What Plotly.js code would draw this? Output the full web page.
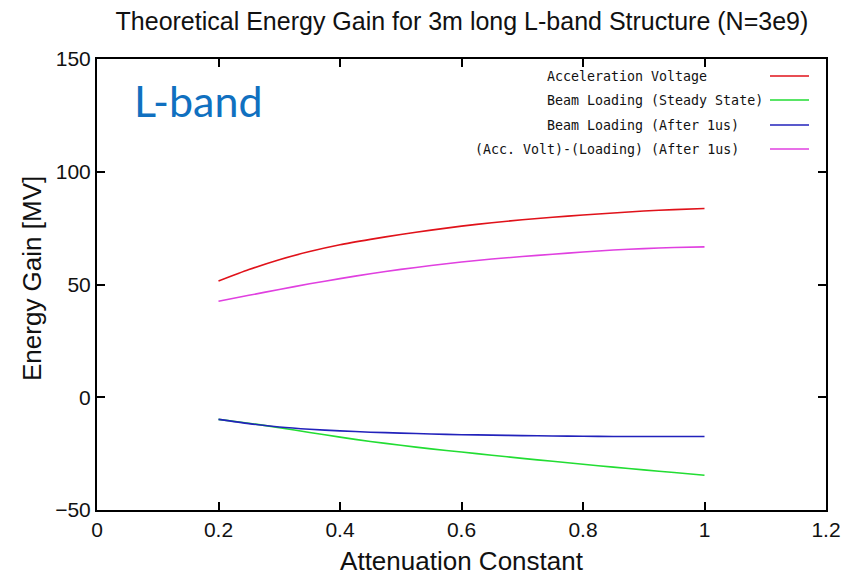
<!DOCTYPE html>
<html><head><meta charset="utf-8">
<script src="https://cdn.plot.ly/plotly-3.0.1.min.js"></script>
<style>body{margin:0;background:#fff}#c{width:857px;height:583px}</style>
</head><body><div id="c"></div>
<script>
const atten = [0.2,0.25,0.3,0.35,0.4,0.45,0.5,0.55,0.6,0.65,0.7,0.75,0.8,0.85,0.9,0.95,1.0];
const accVoltage = [51.5,56.6,61.0,64.6,67.6,70.0,72.2,74.1,75.9,77.4,78.7,79.8,80.8,81.7,82.6,83.2,83.7];
const loadSteady = [-9.8,-11.5,-13.5,-15.6,-17.7,-19.6,-21.3,-22.9,-24.3,-25.7,-27.1,-28.4,-29.7,-31.0,-32.2,-33.4,-34.6];
const loadAfter1us = [-9.8,-11.7,-13.2,-14.2,-14.9,-15.5,-15.9,-16.3,-16.6,-16.8,-17.0,-17.2,-17.3,-17.4,-17.4,-17.4,-17.4];
const netAfter1us = [42.6,45.2,47.8,50.3,52.6,54.8,56.7,58.4,60.0,61.3,62.4,63.4,64.4,65.3,65.9,66.4,66.7];
const seriesNames = ["Acceleration Voltage","Beam Loading (Steady State)","Beam Loading (After 1us)","(Acc. Volt)-(Loading) (After 1us)"];
const seriesColors = ["#e0121a","#22dd33","#2222bb","#e040e0"];
const seriesData = [accVoltage, loadSteady, loadAfter1us, netAfter1us];
const xTicks = [0,0.2,0.4,0.6,0.8,1,1.2];
const xTickText = ["0","0.2","0.4","0.6","0.8","1","1.2"];
const yTicks = [-50,0,50,100,150];

const traces = seriesData.map((d,i)=>({
  x: atten, y: d, type:'scatter', mode:'lines', name: seriesNames[i],
  line:{color: seriesColors[i], width:1.6, shape:'spline', smoothing:0.6}, showlegend:false
}));

const PL=97, PR=826, PT=59, PB=510;
const px = v => (v-PL)/(PR-PL);
const py = v => 1-(v-PT)/(PB-PT);
const legX = [545,545,545,473];
const legY = [76,100,125,149];
const sans = 'Liberation Sans, Arial, sans-serif';
const annotations = seriesNames.map((n,i)=>({
  xref:'paper', yref:'paper', x:px(legX[i]), y:py(legY[i]),
  xanchor:'left', yanchor:'middle', text:n, showarrow:false,
  font:{family:'DejaVu Sans Mono, monospace', size:13.3, color:'#111'}
}));
annotations.push({xref:'paper', yref:'paper', x:px(132), y:py(100),
  xanchor:'left', yanchor:'middle', text:'L-band', showarrow:false,
  font:{family:'Lato, Open Sans, sans-serif', size:43, color:'#1070c0'}});
annotations.push({xref:'paper', yref:'paper', x:px(32), y:py(279),
  xanchor:'center', yanchor:'middle', textangle:-90, text:'Energy Gain [MV]', showarrow:false,
  font:{family:sans, size:26, color:'#111'}});
const shapes = seriesNames.map((n,i)=>({
  type:'line', xref:'paper', yref:'paper',
  x0:px(770), x1:px(809), y0:py(legY[i]), y1:py(legY[i]),
  line:{color: seriesColors[i], width:1.6}
}));

const layout = {
  width:857, height:583,
  margin:{l:PL, r:857-PR, t:PT, b:583-PB},
  paper_bgcolor:'#fff', plot_bgcolor:'#fff',
  title:{text:'Theoretical Energy Gain for 3m long L-band Structure (N=3e9)',
    font:{family:sans, size:25, color:'#111'},
    x:0.539, xanchor:'center', y:0.963, yanchor:'middle'},
  xaxis:{range:[0,1.2], tickvals:xTicks, ticktext:xTickText, ticks:'inside', ticklen:8, tickwidth:2,
    tickcolor:'#000', showline:true, linecolor:'#000', linewidth:2, mirror:'ticks',
    showgrid:false, zeroline:false,
    tickfont:{family:sans, size:21, color:'#111'},
    title:{text:'Attenuation Constant', standoff:12,
      font:{family:sans, size:26, color:'#111'}}},
  yaxis:{range:[-50,150], tickvals:yTicks, ticks:'inside', ticklen:8, tickwidth:2,
    tickcolor:'#000', showline:true, linecolor:'#000', linewidth:2, mirror:'ticks',
    showgrid:false, zeroline:false,
    tickfont:{family:sans, size:21, color:'#111'}},
  annotations: annotations,
  shapes: shapes,
  showlegend:false
};
Plotly.newPlot('c', traces, layout, {displayModeBar:false, staticPlot:true});
</script></body></html>
